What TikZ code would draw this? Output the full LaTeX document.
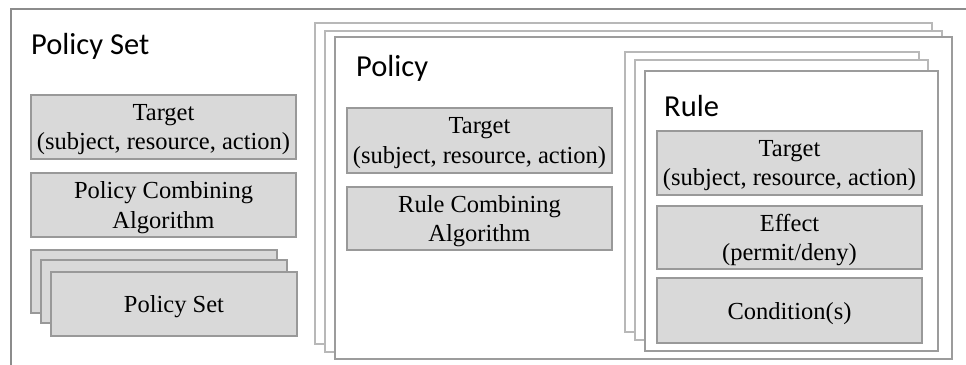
\documentclass[tikz,border=0pt]{standalone}
\usepackage{fontspec}
\setmainfont{Liberation Serif}
\newfontfamily\titlefont{Carlito}
\usetikzlibrary{positioning}
\definecolor{boxfill}{HTML}{D9D9D9}
\definecolor{boxline}{HTML}{999999}
\definecolor{frameline}{HTML}{B8B8B8}
\definecolor{outerline}{HTML}{8C8C8C}
\tikzstyle{elem} = [draw=boxline,fill=boxfill,line width=1.3pt,align=center,inner sep=0pt,text depth=0pt,minimum width=265pt,minimum height=64pt,font=\fontsize{24.5}{29.5}\selectfont]
\tikzstyle{frame} = [draw=frameline,fill=white,line width=1.2pt]
\tikzstyle{title} = [anchor=base west,inner sep=0pt,font=\titlefont\fontsize{30.5}{33}\selectfont]

\begin{document}
\begin{tikzpicture}[x=1pt,y=-1pt]
\useasboundingbox (0,0) rectangle (966,364);
\clip (0,0) rectangle (966,364);

% policy set
\draw[outerline,line width=1.3pt,fill=white] (11,9) rectangle (990,390);
\node[title] (pstitle) at (31,54) {Policy Set};

% policy stack
\draw[frame] (315,23) rectangle (932,344);
\draw[frame] (325,31) rectangle (942,352);
\draw[frame,draw=frameline!85!black] (335,37) rectangle (952,359);
\node[title] (poltitle) at (356,76) {Policy};

% rule stack
\draw[frame] (625,52) rectangle (919,332);
\draw[frame] (635,60) rectangle (928,340);
\draw[frame,draw=frameline!85!black] (645,71) rectangle (938,351);
\node[title] (ruletitle) at (664,116) {Rule};

\node[elem] (pstarget) at (163.5,127) {Target\\(subject, resource, action)};
\node[elem] (psalg) at (163.5,205) {Policy Combining\\Algorithm};
\draw[elem] (31,250) rectangle (277,313);
\draw[elem] (41,260) rectangle (287,323);
\node[elem,minimum width=246pt] (psset) at (174,304) {Policy Set};

\node[elem,minimum height=65pt] (poltarget) at (479.5,140.5) {Target\\(subject, resource, action)};
\node[elem,minimum height=63pt] (polalg) at (479.5,218.5) {Rule Combining\\Algorithm};

\node[elem] (ruletarget) at (789.5,163) {Target\\(subject, resource, action)};
\node[elem,minimum height=63pt] (ruleeffect) at (789.5,237.5) {Effect\\(permit/deny)};
\node[elem,minimum height=65pt] (rulecond) at (789.5,310.5) {Condition(s)};
\end{tikzpicture}
\end{document}
